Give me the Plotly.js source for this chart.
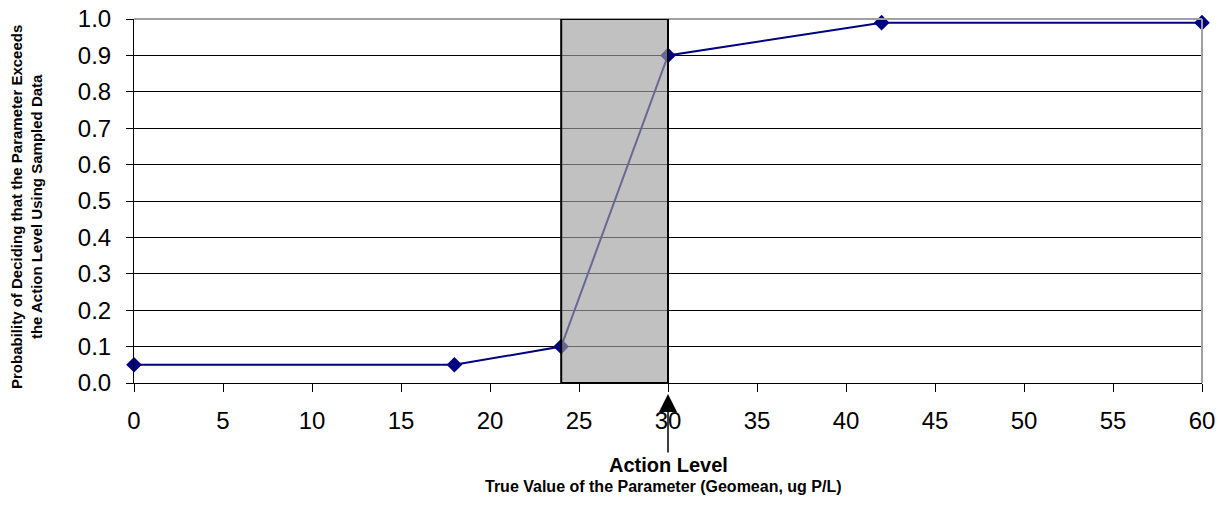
<!DOCTYPE html>
<html>
<head>
<meta charset="utf-8">
<script src="https://cdn.plot.ly/plotly-3.0.1.min.js"></script>
<style>html,body{margin:0;padding:0;background:#fff;}#chart{width:1225px;height:506px;}</style>
</head>
<body>
<div id="chart"></div>
<script>
var trueValue = [0, 18, 24, 30, 42, 60];
var probability = [0.05, 0.05, 0.1, 0.9, 0.99, 0.99];
var grayRegion = [24, 30];
var actionLevel = 30;
var xTicks = [0, 5, 10, 15, 20, 25, 30, 35, 40, 45, 50, 55, 60];
var yTicks = [0, 0.1, 0.2, 0.3, 0.4, 0.5, 0.6, 0.7, 0.8, 0.9, 1.0];
var xTitle = 'True Value of the Parameter (Geomean, ug P/L)';
var yTitle = 'Probability of Deciding that the Parameter Exceeds<br>the Action Level Using Sampled Data';

var trace = {
  x: trueValue, y: probability, type: 'scatter', mode: 'lines+markers',
  line: {color: '#000080', width: 2},
  marker: {symbol: 'diamond', size: 12, color: '#000080'},
  cliponaxis: false, hoverinfo: 'skip'
};

var layout = {
  width: 1225, height: 506,
  margin: {l: 134, r: 23, t: 19, b: 123},
  paper_bgcolor: '#fff', plot_bgcolor: '#fff',
  font: {family: 'Liberation Sans, Arial, sans-serif', color: '#000'},
  showlegend: false,
  xaxis: {
    range: [0, 60], tickvals: xTicks, ticktext: xTicks.map(String),
    showgrid: false, zeroline: false,
    showline: true, linecolor: '#000', linewidth: 1,
    ticks: 'outside', ticklen: 8, tickcolor: '#000',
    ticklabelstandoff: 8,
    tickfont: {size: 24}, fixedrange: true
  },
  yaxis: {
    range: [0, 1.0], tickvals: yTicks, ticktext: yTicks.map(function(v){return v.toFixed(1);}),
    showgrid: true, gridcolor: '#000', gridwidth: 1, zeroline: false,
    showline: true, linecolor: '#000', linewidth: 1,
    ticks: 'outside', ticklen: 7, tickcolor: '#000',
    ticklabelstandoff: 10,
    tickfont: {size: 24}, fixedrange: true
  },
  shapes: [
    {type: 'line', xref: 'paper', yref: 'paper', x0: 0, x1: 1, y0: 1, y1: 1, line: {color: '#a0a0a0', width: 2}, layer: 'above'},
    {type: 'line', xref: 'paper', yref: 'paper', x0: 1, x1: 1, y0: 0, y1: 1, line: {color: '#a0a0a0', width: 2}, layer: 'above'},
    {type: 'rect', xref: 'x', yref: 'y', x0: grayRegion[0], x1: grayRegion[1], y0: 0, y1: 1,
     fillcolor: 'rgba(160,160,160,0.65)', line: {color: '#000', width: 2}, layer: 'above'}
  ],
  annotations: [
    {x: actionLevel, y: 0, xref: 'x', yref: 'y', text: '<b>Action Level</b>',
     font: {size: 20, color: '#000'}, showarrow: true, arrowhead: 2, arrowsize: 2.4, arrowwidth: 1.5,
     arrowcolor: '#000', ax: 0, ay: 82, standoff: 11},
    {x: 0.5, y: 0, xref: 'paper', yref: 'paper', text: '<b>' + xTitle + '</b>', showarrow: false,
     font: {size: 16}, xanchor: 'center', yanchor: 'middle'},
    {x: 0, y: 0.5, xref: 'paper', yref: 'paper', text: '<b>' + yTitle + '</b>', showarrow: false, textangle: -90,
     font: {size: 15}, xanchor: 'center', yanchor: 'middle'}
  ]
};
// convert pixel anchors for title annotations into paper coordinates
var pw = layout.width - layout.margin.l - layout.margin.r;
var ph = layout.height - layout.margin.t - layout.margin.b;
layout.annotations[1].x = (663 - layout.margin.l) / pw;
layout.annotations[1].y = (layout.height - layout.margin.b - 487) / ph;
layout.annotations[2].x = (27 - layout.margin.l) / pw;
layout.annotations[2].y = (layout.height - layout.margin.b - 207) / ph;

Plotly.newPlot('chart', [trace], layout, {displayModeBar: false, staticPlot: true});
</script>
</body>
</html>
